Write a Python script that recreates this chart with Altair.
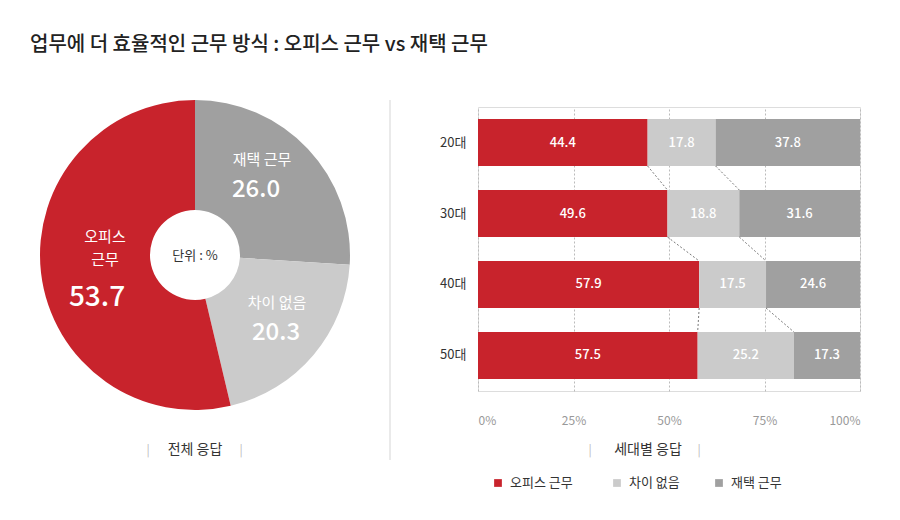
import altair as alt
import pandas as pd

ages = ["20대", "30대", "40대", "50대"]
office = [44.4, 49.6, 57.9, 57.5]
nodiff = [17.8, 18.8, 17.5, 25.2]
home = [37.8, 31.6, 24.6, 17.3]
cats = ["오피스 근무", "차이 없음", "재택 근무"]
colors = ["#c8232c", "#cbcbcb", "#a0a0a0"]
total = {"오피스 근무": 53.7, "차이 없음": 20.3, "재택 근무": 26.0}
FONT = "Noto Sans CJK KR"

rows = []
for i, a in enumerate(ages):
    start = 0
    for c, v in zip(cats, [office[i], nodiff[i], home[i]]):
        rows.append({"age": a, "cat": c, "v": v, "x0": start / 100, "x1": (start + v) / 100,
                     "mid": (start + v / 2) / 100, "lab": f"{v:.1f}"})
        start += v
bars_df = pd.DataFrame(rows)

H = 284
step = H / 4
bh = 47
conn = []
for i in range(3):
    b1 = office[i] / 100, (office[i] + nodiff[i]) / 100
    b2 = office[i + 1] / 100, (office[i + 1] + nodiff[i + 1]) / 100
    yb = step * i + step / 2 + bh / 2
    yt = step * (i + 1) + step / 2 - bh / 2
    for a, b in zip(b1, b2):
        conn.append({"x": a, "x2": b, "y": yb, "y2": yt})
conn_df = pd.DataFrame(conn)

cscale = alt.Scale(domain=cats, range=colors)
yenc = alt.Y("age:N", sort=ages, title=None,
             scale=alt.Scale(paddingInner=24 / 71, paddingOuter=0.17),
             axis=alt.Axis(domain=False, ticks=False, grid=False, labelPadding=12, labelFontSize=13,
                           labelColor="#333", labelFont=FONT))
xenc = alt.X("x0:Q", title=None, scale=alt.Scale(domain=[0, 1], nice=False),
             axis=alt.Axis(format="%", values=[0, 0.25, 0.5, 0.75, 1], domain=False, ticks=False,
                           labelColor="#999", labelFontSize=12, labelPadding=24, labelFont=FONT,
                           grid=True, gridDash=[2, 2], gridColor="#bbbbbb"))

bars = alt.Chart(bars_df).mark_bar().encode(
    x=xenc, x2="x1:Q", y=yenc,
    color=alt.Color("cat:N", scale=cscale, legend=None))
btext = alt.Chart(bars_df).mark_text(font=FONT, fontSize=13, color="white", fontWeight=500).encode(
    x="mid:Q", y=alt.Y("age:N", sort=ages), text="lab:N")
conns = alt.Chart(conn_df).mark_rule(strokeDash=[2, 2], color="#555", strokeWidth=0.8).encode(
    x="x:Q", x2="x2:Q", y=alt.Y("y:Q", scale=None), y2="y2:Q")

CX, CY = 195 - 478, 255 - 107
pie_df = pd.DataFrame({"cat": ["재택 근무", "차이 없음", "오피스 근무"],
                       "v": [total["재택 근무"], total["차이 없음"], total["오피스 근무"]],
                       "o": [0, 1, 2]})
donut = alt.Chart(pie_df).mark_arc(outerRadius=155, innerRadius=45).encode(
    theta=alt.Theta("v:Q", stack=True), order="o:Q",
    color=alt.Color("cat:N", scale=cscale, legend=None),
    x=alt.value(CX), y=alt.value(CY))

one = pd.DataFrame({"a": [0]})


def txt(s, x, y, size=13, color="#333", weight="normal", align="center"):
    return alt.Chart(one).mark_text(text=s, font=FONT, fontSize=size, color=color,
                                    fontWeight=weight, align=align, baseline="middle").encode(
        x=alt.value(x - 478), y=alt.value(y - 107))


texts = [
    txt("업무에 더 효율적인 근무 방식 : 오피스 근무 vs 재택 근무", 30, 45, 20, "#222", 500, "left"),
    txt("단위 : %", 195, 256, 13, "#333"),
    txt("오피스", 105, 237, 15, "white"),
    txt("근무", 105, 260, 15, "white"),
    txt("53.7", 97, 298, 28, "white", 500),
    txt("재택 근무", 262, 160, 15, "white"),
    txt("26.0", 256, 190, 24, "white", 500),
    txt("차이 없음", 277, 303, 15, "white"),
    txt("20.3", 276, 333, 24, "white", 500),
    txt("|", 148, 450, 12, "#bbb"), txt("전체 응답", 195, 450, 14, "#333"), txt("|", 241, 450, 12, "#bbb"),
    txt("|", 590, 450, 12, "#bbb"), txt("세대별 응답", 648, 450, 14, "#333"), txt("|", 699, 450, 12, "#bbb"),
]
leg_x = [498, 617, 719]
for c, col, lx in zip(cats, colors, leg_x):
    texts.append(alt.Chart(one).mark_square(size=60, color=col, opacity=1).encode(
        x=alt.value(lx - 478), y=alt.value(483 - 107)))
    texts.append(txt(c, lx + 12, 483, 13, "#333", "normal", "left"))

sep = alt.Chart(one).mark_rule(color="#d5d5d5").encode(
    x=alt.value(390 - 478), y=alt.value(100 - 107), y2=alt.value(460 - 107))

chart = alt.layer(sep, donut, bars, conns, btext, *texts).properties(
    width=382, height=H, autosize=alt.AutoSizeParams(type="none"),
    padding={"left": 470, "top": 99, "right": 32, "bottom": 113}
).configure_view(stroke=None).configure(background="white")

chart.save("out.html", embed_options={"renderer": "svg", "actions": False})
